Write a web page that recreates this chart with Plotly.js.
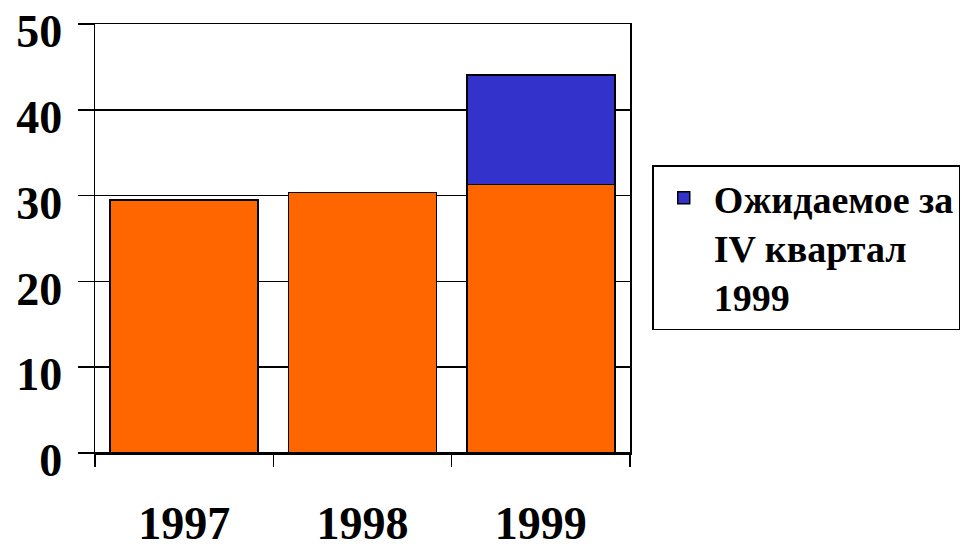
<!DOCTYPE html>
<html>
<head>
<meta charset="utf-8">
<script src="https://cdn.plot.ly/plotly-3.0.1.min.js"></script>
<style>html,body{margin:0;padding:0;background:#fff;}#chart{width:962px;height:550px;}</style>
</head>
<body>
<div id="chart"></div>
<script>
const years = ['1997', '1998', '1999'];
const actualValues = [29.5, 30.4, 31.3];
const expectedQ4 = [null, null, 12.8];
const expectedName = 'Ожидаемое за<br>IV квартал<br>1999';
const yTicks = [0, 10, 20, 30, 40, 50];

const font = {family: 'Liberation Serif, Times New Roman, serif', color: '#000', weight: 'bold'};

const traces = [
  {
    type: 'bar', x: years, y: actualValues, showlegend: false, name: 'Факт',
    marker: {color: '#FF6600', line: {color: '#000', width: 1.5}}
  },
  {
    type: 'bar', x: years, y: expectedQ4, name: expectedName,
    marker: {color: '#3333CC', line: {color: '#000', width: 1.5}}
  }
];

const layout = {
  width: 962, height: 550,
  margin: {l: 95, r: 332, t: 24, b: 97, autoexpand: false},
  paper_bgcolor: '#fff', plot_bgcolor: '#fff',
  barmode: 'stack', bargap: 0.17,
  showlegend: true,
  font: font,
  xaxis: {
    type: 'category',
    showline: true, linecolor: '#000', linewidth: 1.5, mirror: true,
    ticks: 'outside', tickson: 'boundaries', ticklen: 12, tickwidth: 1.5, tickcolor: '#000',
    ticklabelstandoff: 29,
    tickfont: Object.assign({}, font, {size: 46}),
    showgrid: false
  },
  yaxis: {
    range: [0, 50.02], tickvals: yTicks, ticktext: yTicks.map(String),
    showline: true, linecolor: '#000', linewidth: 1.5, mirror: true,
    ticks: 'outside', ticklen: 16, tickwidth: 1.5, tickcolor: '#000',
    showgrid: true, gridcolor: '#000', gridwidth: 1.5,
    zeroline: true, zerolinecolor: '#000', zerolinewidth: 1.5,
    ticklabelstandoff: 6, ticklabelshift: 7,
    tickfont: Object.assign({}, font, {size: 46})
  },
  legend: {
    xref: 'container', yref: 'container',
    x: 0.678, xanchor: 'left', y: 0.70, yanchor: 'top',
    bordercolor: '#000', borderwidth: 1.5, bgcolor: '#fff',
    valign: 'top', itemwidth: 50,
    font: Object.assign({}, font, {size: 38})
  }
};

Plotly.newPlot('chart', traces, layout, {displayModeBar: false, staticPlot: true});
</script>
</body>
</html>
